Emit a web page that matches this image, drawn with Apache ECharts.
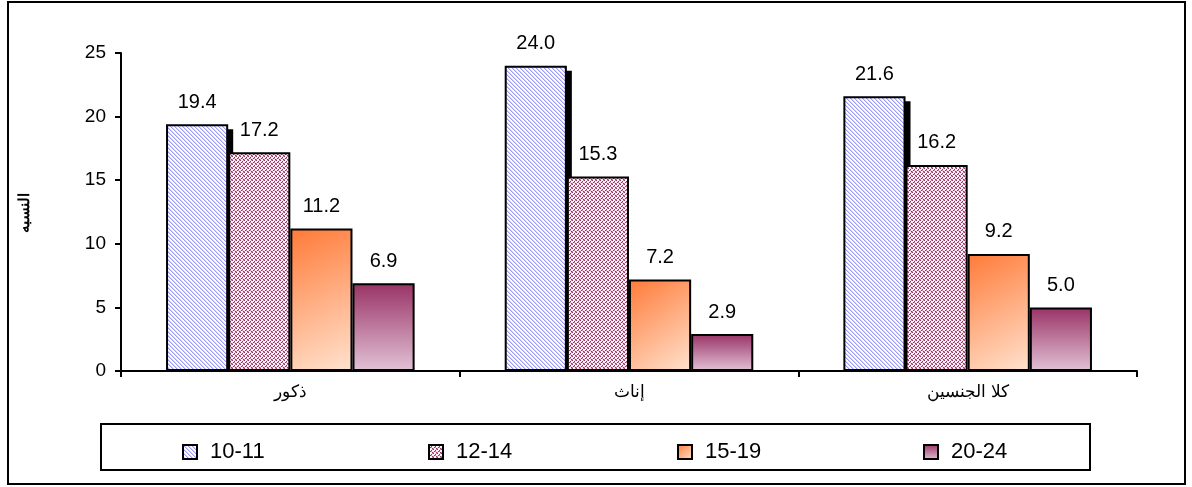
<!DOCTYPE html>
<html>
<head>
<meta charset="utf-8">
<script src="https://cdn.jsdelivr.net/npm/echarts@6/dist/echarts.min.js"></script>
<style>
  html, body { margin: 0; padding: 0; background: #fff; }
  #chart { width: 1192px; height: 487px; }
</style>
</head>
<body>
<div id="chart"></div>
<script>
// Age groups (series) and gender groups (categories)
var categories = ['ذكور', 'إناث', 'كلا الجنسين'];
var ageGroups = ['10-11', '12-14', '15-19', '20-24'];
var age10_11 = [19.4, 24.0, 21.6];
var age12_14 = [17.2, 15.3, 16.2];
var age15_19 = [11.2, 7.2, 9.2];
var age20_24 = [6.9, 2.9, 5.0];
var yTicks = [0, 5, 10, 15, 20, 25];
var yTitle = 'النسبه';

var BAR_CAT_GAP = 0.266;
var FONT = 'Liberation Sans, Arial, sans-serif';

// Diagonal-stripe fill: light blue lines on white
function stripeTile() {
  var c = document.createElement('canvas');
  c.width = 4; c.height = 4;
  var g = c.getContext('2d');
  g.fillStyle = '#ffffff';
  g.fillRect(0, 0, 4, 4);
  for (var i = 0; i < 4; i++) {
    g.fillStyle = '#9a9af6';
    g.fillRect(i, i, 1, 1);
    g.fillStyle = '#d6d6fc';
    g.fillRect((i + 1) % 4, i, 1, 1);
  }
  return c;
}

// Fine confetti fill: maroon dots on white
function confettiTile() {
  var c = document.createElement('canvas');
  c.width = 4; c.height = 4;
  var g = c.getContext('2d');
  g.fillStyle = '#fbf1f5';
  g.fillRect(0, 0, 4, 4);
  g.fillStyle = '#993366';
  [[0, 0], [2, 1], [1, 2], [3, 3]].forEach(function (p) { g.fillRect(p[0], p[1], 1, 1); });
  g.fillStyle = '#c98aa8';
  [[3, 0], [0, 3], [2, 2]].forEach(function (p) { g.fillRect(p[0], p[1], 1, 1); });
  return c;
}

var fills = [
  { image: stripeTile(), repeat: 'repeat' },
  { image: confettiTile(), repeat: 'repeat' },
  new echarts.graphic.LinearGradient(0, 0, 1, 1, [
    { offset: 0, color: '#ff7a38' },
    { offset: 1, color: '#ffe3cf' }
  ]),
  new echarts.graphic.LinearGradient(0, 0, 0, 1, [
    { offset: 0, color: '#993366' },
    { offset: 1, color: '#e2c2d6' }
  ])
];
var seriesData = [age10_11, age12_14, age15_19, age20_24];

// Solid drop shadow behind the first age group's bars
var shadowSeries = {
  type: 'custom',
  z: 1,
  silent: true,
  data: categories.map(function (c, i) { return [i, age10_11[i]]; }),
  renderItem: function (params, api) {
    var base = api.coord([api.value(0), 0]);
    var top = api.coord([api.value(0), api.value(1)]);
    var band = api.size([1, 0])[0];
    var bw = band * (1 - BAR_CAT_GAP) / ageGroups.length;
    var x = base[0] - 2 * bw;
    return {
      type: 'rect',
      shape: { x: x + 5, y: top[1] + 5, width: bw, height: base[1] - top[1] - 5 },
      style: { fill: '#000' }
    };
  }
};

var barSeries = ageGroups.map(function (name, i) {
  return {
    name: name,
    type: 'bar',
    z: 2,
    data: seriesData[i],
    barGap: '0%',
    barCategoryGap: (BAR_CAT_GAP * 100) + '%',
    itemStyle: { color: fills[i], borderColor: '#000', borderWidth: 2 },
    emphasis: { disabled: true },
    label: {
      show: true,
      position: 'top',
      distance: 12,
      formatter: function (p) { return p.value.toFixed(1); },
      color: '#000',
      fontSize: 20,
      fontFamily: FONT
    }
  };
});

// One legend entry per age group, spaced across the legend box
var legendLeft = [177, 423, 672, 918];
var legends = ageGroups.map(function (g, i) {
  return {
    data: [g],
    left: legendLeft[i],
    top: 436,
    itemWidth: 14,
    itemHeight: 14,
    icon: 'rect',
    selectedMode: false,
    textStyle: { color: '#000', fontSize: 22, fontFamily: FONT, padding: [0, 0, 0, 8] }
  };
});

var chart = echarts.init(document.getElementById('chart'), null, { renderer: 'canvas' });
chart.setOption({
  animation: false,
  backgroundColor: '#fff',
  grid: { left: 121, right: 55, top: 53, bottom: 116 },
  xAxis: {
    type: 'category',
    data: categories,
    axisLine: { lineStyle: { color: '#000', width: 2 } },
    axisTick: { show: true, length: 6, lineStyle: { color: '#000', width: 2 } },
    axisLabel: { color: '#000', fontSize: 17, fontFamily: FONT, margin: 13 }
  },
  yAxis: {
    type: 'value',
    min: 0,
    max: 25,
    interval: 5,
    splitLine: { show: false },
    axisLine: { show: true, lineStyle: { color: '#000', width: 2 } },
    axisTick: { show: true, length: 6, lineStyle: { color: '#000', width: 2 } },
    axisLabel: {
      color: '#000', fontSize: 19, fontFamily: FONT, margin: 15,
      formatter: function (v) { return yTicks.indexOf(v) >= 0 ? String(v) : ''; }
    }
  },
  legend: legends,
  graphic: [
    {
      type: 'rect',
      shape: { x: 8, y: 2, width: 1177, height: 482 },
      style: { fill: 'none', stroke: '#000', lineWidth: 2 },
      silent: true
    },
    {
      type: 'rect',
      shape: { x: 101, y: 424, width: 989, height: 46 },
      style: { fill: 'none', stroke: '#000', lineWidth: 2 },
      silent: true
    },
    {
      type: 'text',
      x: 25,
      y: 213,
      rotation: Math.PI / 2,
      style: {
        text: yTitle,
        fill: '#000',
        font: 'bold 15px ' + FONT,
        textAlign: 'center',
        textVerticalAlign: 'middle'
      },
      silent: true
    }
  ],
  series: [shadowSeries].concat(barSeries)
});
</script>
</body>
</html>
